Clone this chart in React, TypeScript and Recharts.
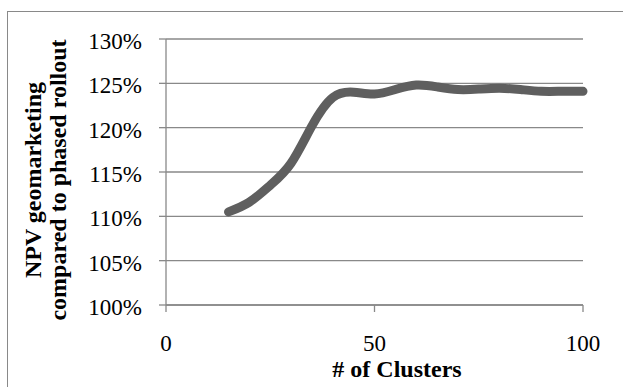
import React from 'react';
import { LineChart, Line, XAxis, YAxis, CartesianGrid } from 'recharts';

// Number of clusters vs. NPV of geomarketing relative to a phased rollout (%)
const clusters = [15, 20, 25, 30, 35, 40, 45, 50, 55, 60, 65, 70, 75, 80, 85, 90, 95, 100];
const npvRatio = [110.5, 111.6, 113.5, 116.0, 120.2, 123.4, 124.0, 123.8, 124.3, 124.8, 124.6, 124.3, 124.35, 124.45, 124.3, 124.1, 124.1, 124.1];

const yTicks = [100, 105, 110, 115, 120, 125, 130];
const xTicks = [0, 50, 100];
const xTitle = '# of Clusters';
const yTitleLines = ['NPV geomarketing', 'compared to phased rollout'];

const data = clusters.map((c, i) => ({ clusters: c, npv: npvRatio[i] }));

const FONT = '"Liberation Serif", "Times New Roman", serif';
const GRID = '#898989';
const LINE = '#5f5f5f';

const textStyle = { fontFamily: FONT, fontSize: 23 };
const titleStyle = { fontFamily: FONT, fontSize: 24, fontWeight: 'bold' as const };

const YTick = (props: any) => {
  const { x, y, payload } = props;
  return (
    <text x={x} y={y} dy={10} textAnchor="end" style={textStyle} fill="#000">
      {`${payload.value}%`}
    </text>
  );
};

const XTick = (props: any) => {
  const { x, y, payload } = props;
  return (
    <text x={x} y={y} dy={39} textAnchor="middle" style={textStyle} fill="#000">
      {payload.value}
    </text>
  );
};

const YTitle = () => (
  <g style={titleStyle} fill="#000">
    <text x={41} y={180} textAnchor="middle" transform="rotate(-90, 41, 180)">
      {yTitleLines[0]}
    </text>
    <text x={66} y={180} textAnchor="middle" transform="rotate(-90, 66, 180)">
      {yTitleLines[1]}
    </text>
  </g>
);

const XTitle = () => (
  <text x={397} y={377} textAnchor="middle" style={titleStyle} fill="#000">
    {xTitle}
  </text>
);

export default function App() {
  return (
    <div style={{ position: 'absolute', left: 0, top: 0, width: 623, height: 387, overflow: 'hidden', background: '#fff' }}>
      <div
        style={{
          position: 'absolute',
          left: 7,
          top: 11,
          width: 800,
          height: 600,
          borderLeft: `1px solid ${GRID}`,
          borderTop: `1px solid ${GRID}`,
        }}
      />
      <div style={{ position: 'absolute', left: 0, top: 0 }}>
        <LineChart width={623} height={387} data={data} margin={{ top: 39, right: 40, left: 0, bottom: 0 }}>
          <CartesianGrid horizontal vertical={false} stroke={GRID} strokeWidth={1.3} />
          <XAxis
            dataKey="clusters"
            type="number"
            domain={[0, 100]}
            ticks={xTicks}
            height={82}
            tickSize={7}
            tickMargin={0}
            axisLine={{ stroke: GRID, strokeWidth: 1.3 }}
            tickLine={{ stroke: GRID, strokeWidth: 1.3 }}
            tick={<XTick />}
            label={{ content: () => <XTitle /> }}
          />
          <YAxis
            type="number"
            domain={[100, 130]}
            ticks={yTicks}
            width={166}
            tickSize={7}
            tickMargin={17}
            axisLine={{ stroke: GRID, strokeWidth: 1.3 }}
            tickLine={{ stroke: GRID, strokeWidth: 1.3 }}
            tick={<YTick />}
            label={{ content: () => <YTitle /> }}
          />
          <Line
            dataKey="npv"
            type="natural"
            stroke={LINE}
            strokeWidth={9}
            strokeLinecap="round"
            strokeLinejoin="round"
            dot={false}
            activeDot={false}
            isAnimationActive={false}
          />
        </LineChart>
      </div>
    </div>
  );
}
